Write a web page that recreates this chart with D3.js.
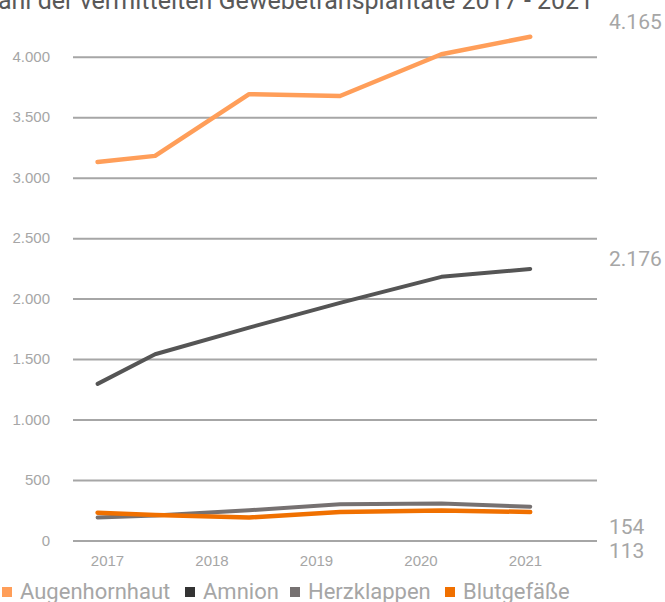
<!DOCTYPE html>
<html>
<head>
<meta charset="utf-8">
<script src="https://cdn.jsdelivr.net/npm/d3@7"></script>
<style>
  body { margin: 0; background: #fff; }
  svg { display: block; font-family: Roboto, "Liberation Sans", sans-serif; }
  .grid line { stroke: #a6a6a6; stroke-width: 2; }
  .grid path { display: none; }
  .yAxis text, .xAxis text { fill: #a6a6a6; }
</style>
</head>
<body>
<div id="chart"></div>
<script>
// chart data
var years = [2017, 2018, 2019, 2020, 2021];
// x positions of the plotted points (in year units)
var pointYears = [2016.91, 2017.46, 2018.36, 2019.23, 2020.2, 2021.05];
var augenhornhaut = [3130, 3180, 3690, 3675, 4020, 4165];
var amnion = [1295, 1540, 1760, 1965, 2180, 2245];
var herzklappen = [190, 207, 250, 300, 305, 280];
var blutgefaesse = [230, 210, 190, 235, 248, 236];
var yTicks = [0, 500, 1000, 1500, 2000, 2500, 3000, 3500, 4000];
var seriesNames = ["Augenhornhaut", "Amnion", "Herzklappen", "Blutgefäße"];
var endLabels = ["4.165", "2.176", "154", "113"];

var w = 665, h = 602;
var colors = ["#ff9e59", "#555555", "#767171", "#f07000"];
var legendColors = ["#ff9e59", "#333333", "#767171", "#f07000"];
var widths = [4.5, 4, 4, 4.5];

var de = d3.formatLocale({ decimal: ",", thousands: ".", grouping: [3], currency: ["", " €"] });

var xScale = d3.scaleLinear().domain([2017, 2021]).range([107, 525]);
var yScale = d3.scaleLinear().domain([0, 4000]).range([540.5, 56.7]);

var svg = d3.select("#chart").append("svg")
    .attr("width", w)
    .attr("height", h);

// title (cut off at top left as in the source)
svg.append("text")
    .attr("x", -17)
    .attr("y", 9)
    .attr("font-size", 25)
    .attr("fill", "#595959")
    .text("Zahl der vermittelten Gewebetransplantate 2017 - 2021");

// horizontal grid
svg.append("g")
    .attr("class", "grid")
    .attr("transform", "translate(73,0)")
    .call(d3.axisLeft(yScale).tickValues(yTicks).tickSize(-524).tickFormat(""));

// y labels
svg.append("g")
    .attr("class", "yAxis")
    .attr("transform", "translate(50,0)")
    .call(d3.axisLeft(yScale).tickValues(yTicks).tickSize(0).tickPadding(0)
        .tickFormat(de.format(",")))
    .call(g => g.select(".domain").remove())
    .selectAll("text").attr("font-size", 15);

// x labels
svg.append("g")
    .attr("class", "xAxis")
    .attr("transform", "translate(0,555)")
    .call(d3.axisBottom(xScale).tickValues(years).tickSize(0).tickPadding(0)
        .tickFormat(d3.format("d")))
    .call(g => g.select(".domain").remove())
    .selectAll("text").attr("font-size", 15);

var allSeries = [augenhornhaut, amnion, herzklappen, blutgefaesse];

var line = d3.line()
    .x((d, i) => xScale(pointYears[i]))
    .y(d => yScale(d));

// draw lower series first so the top orange sits on top
[2, 3, 1, 0].forEach(function(k) {
    svg.append("path")
        .datum(allSeries[k])
        .attr("d", line)
        .attr("fill", "none")
        .attr("stroke", colors[k])
        .attr("stroke-width", widths[k])
        .attr("stroke-linecap", "round")
        .attr("stroke-linejoin", "round");
});

// right-side value labels
var labelY = [29, 266, 534, 558];
svg.selectAll("text.endLabel")
    .data(endLabels)
    .enter().append("text")
    .attr("class", "endLabel")
    .attr("x", 609)
    .attr("y", (d, i) => labelY[i])
    .attr("font-size", 21)
    .attr("fill", "#a6a6a6")
    .text(d => d);

// legend
var legendX = [2, 185, 290, 445];
var legend = svg.selectAll("g.legend")
    .data(seriesNames)
    .enter().append("g")
    .attr("class", "legend")
    .attr("transform", (d, i) => "translate(" + legendX[i] + ",0)");

legend.append("rect")
    .attr("x", 0)
    .attr("y", 587)
    .attr("width", 10)
    .attr("height", 10)
    .attr("fill", (d, i) => legendColors[i]);

legend.append("text")
    .attr("x", 18)
    .attr("y", 599)
    .attr("font-size", 22)
    .attr("fill", "#a6a6a6")
    .text(d => d);
</script>
</body>
</html>
